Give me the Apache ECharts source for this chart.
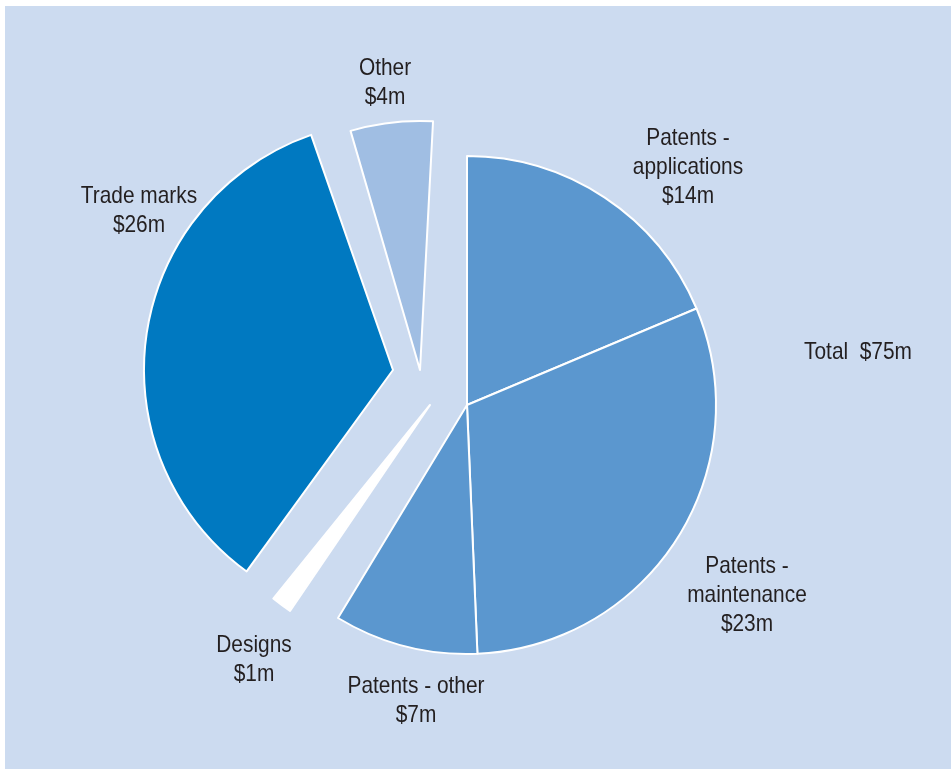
<!DOCTYPE html>
<html>
<head>
<meta charset="utf-8">
<script src="https://cdn.jsdelivr.net/npm/echarts@6/dist/echarts.min.js"></script>
<style>
  html, body { margin: 0; padding: 0; background: #ffffff; }
  #chart { width: 951px; height: 769px; }
</style>
</head>
<body>
<div id="chart"></div>
<script>
// Revenue by source ($m)
const categories = ['Patents -\napplications', 'Patents -\nmaintenance', 'Patents - other', 'Designs', 'Trade marks', 'Other'];
const values = [14, 23, 7, 1, 26, 4];
const sliceColors = ['#5B97CF', '#5B97CF', '#5B97CF', '#FFFFFF', '#0079C1', '#A0BEE3'];

// Each layer is one pie drawn at its own centre, so pulled-out slices can sit apart
const layers = [
  { center: [467, 405], slices: [0, 1, 2], startAngle: 90 },
  { center: [430, 405], slices: [3], startAngle: 87 },
  { center: [393, 370], slices: [4], startAngle: 90 },
  { center: [420, 370], slices: [5], startAngle: 87 }
];

// Centre of the first text line of each slice label
const labelPos = [[688, 138], [747, 566], [416, 686], [254, 645], [139, 196], [385, 68]];
const totalPos = [858, 352];
const lineH = 29;

const total = values.reduce((a, b) => a + b, 0);

const series = layers.map(layer => ({
  type: 'pie',
  center: layer.center,
  radius: 249,
  startAngle: layer.startAngle,
  clockwise: true,
  silent: true,
  animation: false,
  avoidLabelOverlap: false,
  label: { show: false },
  labelLine: { show: false },
  emphasis: { disabled: true },
  data: categories.map((name, i) => ({
    name: name,
    value: values[i],
    itemStyle: layer.slices.includes(i)
      ? { color: sliceColors[i], borderColor: '#ffffff', borderWidth: 2 }
      : { color: 'rgba(0,0,0,0)', borderWidth: 0 }
  }))
}));

function textEl(str, x, firstY) {
  const lines = str.split('\n').length;
  return {
    type: 'text',
    x: x,
    y: firstY + (lines - 1) * lineH / 2,
    scaleX: 0.87,
    z: 100,
    style: {
      text: str,
      font: '24px "Liberation Sans", Arial, sans-serif',
      fill: '#231F20',
      align: 'center',
      textAlign: 'center',
      verticalAlign: 'middle',
      textVerticalAlign: 'middle',
      lineHeight: lineH
    }
  };
}

const graphics = [
  {
    type: 'rect',
    z: -10,
    shape: { x: 5, y: 6, width: 946, height: 763 },
    style: { fill: '#CCDBF0' }
  }
];
categories.forEach((name, i) => {
  graphics.push(textEl(name + '\n$' + values[i] + 'm', labelPos[i][0], labelPos[i][1]));
});
graphics.push(textEl('Total  $' + total + 'm', totalPos[0], totalPos[1]));

const chart = echarts.init(document.getElementById('chart'), null, { renderer: 'canvas' });
chart.setOption({
  backgroundColor: '#ffffff',
  animation: false,
  graphic: { elements: graphics },
  series: series
});
</script>
</body>
</html>
